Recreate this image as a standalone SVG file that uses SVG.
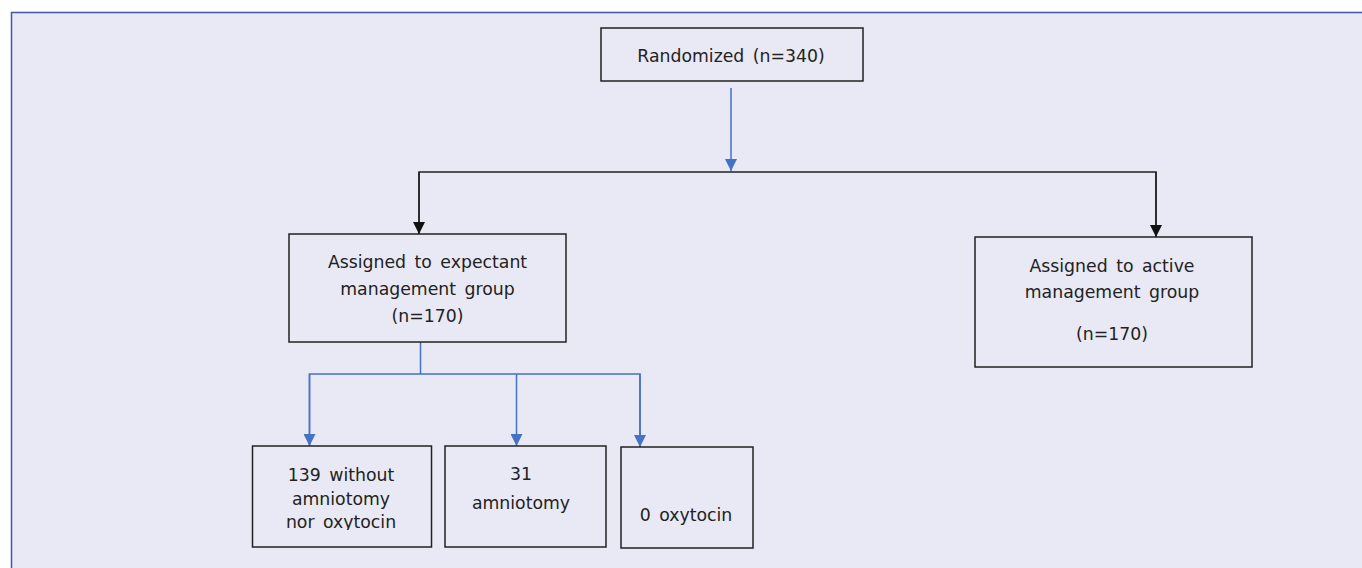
<svg xmlns="http://www.w3.org/2000/svg" width="1362" height="568" viewBox="0 0 1362 568">
<defs>
<style>
.box{fill:none;stroke:#222;stroke-width:1.5}
.t{font-family:"DejaVu Sans","Verdana",sans-serif;font-size:17.3px;fill:#222;text-anchor:middle;word-spacing:3px}
.blue{stroke:#4472C4;stroke-width:1.5;fill:none}
.black{stroke:#222;stroke-width:1.5;fill:none}
</style>
<clipPath id="cl"><rect x="250" y="440" width="185" height="90"/></clipPath>
<marker id="ab" viewBox="0 0 10 10" refX="10" refY="5" markerWidth="12" markerHeight="12" markerUnits="userSpaceOnUse" orient="auto"><path d="M0,0 L10,5 L0,10 Z" fill="#4472C4"/></marker>
<marker id="ak" viewBox="0 0 10 10" refX="10" refY="5" markerWidth="12" markerHeight="12" markerUnits="userSpaceOnUse" orient="auto"><path d="M0,0 L10,5 L0,10 Z" fill="#111"/></marker>
</defs>
<rect x="0" y="0" width="1362" height="568" fill="#fff"/>
<rect x="11.5" y="12.5" width="1360" height="570" fill="#E9E9F5" stroke="#4455AA" stroke-width="1.5"/>
<g id="connectors">
<line class="blue" x1="731" y1="88" x2="731" y2="171" marker-end="url(#ab)"/>
<polyline class="black" points="419,234 419,172 1156,172 1156,237"/>
<line class="black" x1="419" y1="172" x2="419" y2="234" marker-end="url(#ak)"/>
<line class="black" x1="1156" y1="172" x2="1156" y2="237" marker-end="url(#ak)"/>
<polyline class="blue" points="420.5,342 420.5,374"/>
<polyline class="blue" points="309.5,446 309.5,374 640,374 640,446"/>
<line class="blue" x1="309.5" y1="374" x2="309.5" y2="446" marker-end="url(#ab)"/>
<line class="blue" x1="516.5" y1="374" x2="516.5" y2="446" marker-end="url(#ab)"/>
<line class="blue" x1="640" y1="374" x2="640" y2="447" marker-end="url(#ab)"/>
</g>
<g id="randomized">
<rect class="box" x="601" y="28" width="262" height="53"/>
<text class="t" x="731" y="62">Randomized (n=340)</text>
</g>
<g id="expectant">
<rect class="box" x="289" y="234" width="277" height="108"/>
<text class="t" x="427.5" y="268">Assigned to expectant</text>
<text class="t" x="427.5" y="295">management group</text>
<text class="t" x="427.5" y="322">(n=170)</text>
</g>
<g id="active">
<rect class="box" x="975" y="237" width="277" height="130"/>
<text class="t" x="1112" y="272">Assigned to active</text>
<text class="t" x="1112" y="298">management group</text>
<text class="t" x="1112" y="340">(n=170)</text>
</g>
<g id="without">
<rect class="box" x="252.5" y="446" width="179" height="101"/>
<text class="t" x="341" y="481">139 without</text>
<text class="t" x="341" y="505">amniotomy</text>
<text class="t" x="341" y="528" clip-path="url(#cl)">nor oxytocin</text>
</g>
<g id="amniotomy">
<rect class="box" x="445" y="446" width="161" height="101"/>
<text class="t" x="521" y="480">31</text>
<text class="t" x="521" y="509">amniotomy</text>
</g>
<g id="oxytocin">
<rect class="box" x="621" y="447" width="132" height="101"/>
<text class="t" x="686" y="521">0 oxytocin</text>
</g>
</svg>
